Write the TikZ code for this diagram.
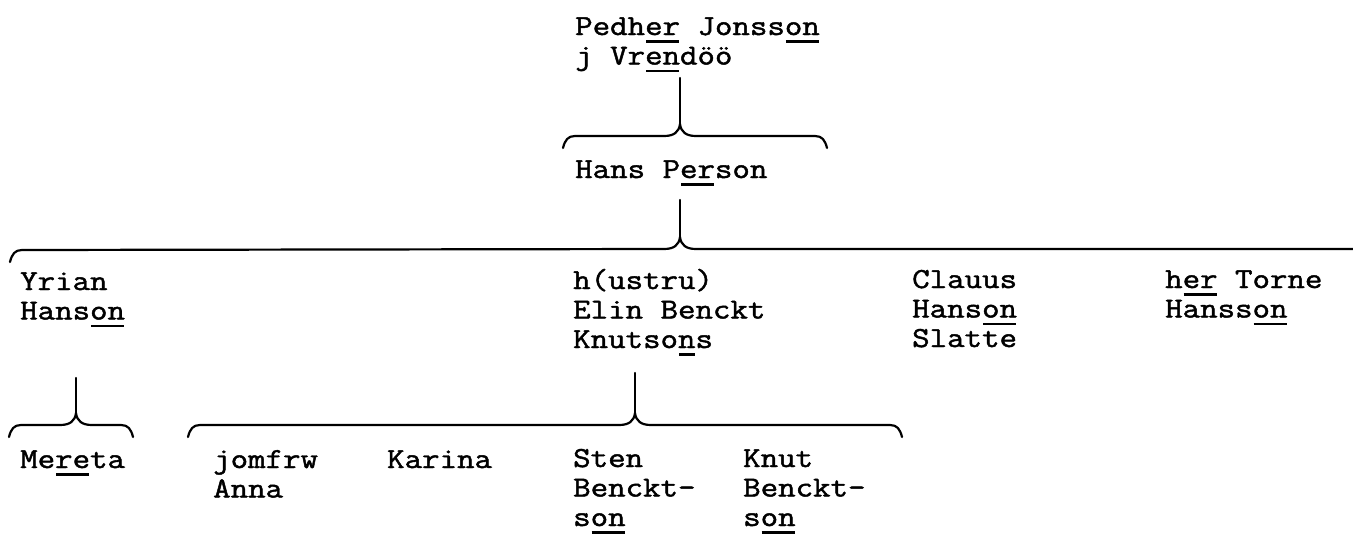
\documentclass[tikz,border=0pt]{standalone}
\usepackage{fontspec}
\newfontfamily\tw{Latin Modern Mono}[FakeStretch=1.17,FakeBold=1.6]
\newcommand\ul[1]{\setbox0\hbox{#1}\rlap{\kern1pt\rule[-7.5pt]{\dimexpr\wd0-2pt\relax}{2.2pt}}\box0\relax}
\newcommand\stk[1]{\vtop{\baselineskip=29.5pt\lineskiplimit=-100pt\lineskip=0pt #1}}
\newcommand\fbr[4]{%
  \draw[brace] (#1,#4+12) .. controls (#1+2,#4+4) and (#1+5,#4) .. (#1+12,#4)
    -- (#3-16,#4) .. controls (#3-6,#4) and (#3-1,#4-4) .. (#3,#4-12)
    .. controls (#3+1,#4-4) and (#3+6,#4) .. (#3+16,#4)
    -- (#2-12,#4) .. controls (#2-5,#4) and (#2-2,#4+4) .. (#2,#4+12);}
\begin{document}
\begin{tikzpicture}[x=1pt,y=-1pt,
  every node/.style={font=\tw\fontsize{29}{29.5}\selectfont, inner sep=0pt, anchor=base west},
  brace/.style={line width=2.2pt, line cap=round, line join=round}]
\useasboundingbox (0,0) rectangle (1353,541);
% texts
\node (ped) at (575,35) {\stk{\hbox{Pedh\ul{er} Jonss\ul{on}}\hbox{j Vr\ul{en}döö}}};
\node (hans) at (575,178) {Hans P\ul{er}son};
\node (yrian) at (20,290) {\stk{\hbox{Yrian}\hbox{Hans\ul{on}}}};
\node (elin) at (573,289) {\stk{\hbox{h(ustru)}\hbox{Elin Benckt}\hbox{Knutso\ul{n}s}}};
\node (clauus) at (912,288) {\stk{\hbox{Clauus}\hbox{Hans\ul{on}}\hbox{Slatte}}};
\node (torne) at (1165,288) {\stk{\hbox{h\ul{er} Torne}\hbox{Hanss\ul{on}}}};
\node (mereta) at (20,468) {Me\ul{re}ta};
\node (anna) at (213,468) {\stk{\hbox{jomfrw}\hbox{Anna}}};
\node (karina) at (387,468) {Karina};
\node (sten) at (573,467) {\stk{\hbox{Sten}\hbox{Benckt-}\hbox{s\ul{on}}}};
\node (knut) at (743,467) {\stk{\hbox{Knut}\hbox{Benckt-}\hbox{s\ul{on}}}};
% brace tips
\coordinate (t1) at (680,125);
\coordinate (t2) at (680,237);
\coordinate (t3) at (76,413);
\coordinate (t4) at (635,413);
% stems
\draw[brace] ([yshift=-43pt]ped.base -| t1) -- (t1);
\draw[brace] ([yshift=-22pt]hans.base -| t2) -- (t2);
\draw[brace] ([yshift=-88pt]yrian.base -| t3) -- (t3);
\draw[brace] ([yshift=-84pt]elin.base -| t4) -- (t4);
% braces
\fbr{563}{827}{680}{136}
\draw[brace] (10,262) .. controls (12,254) and (15,250) .. (22,250)
    -- (664,249) .. controls (674,249) and (679,245) .. (t2)
    .. controls (681,245) and (686,249) .. (696,249) -- (1353,249);
\fbr{9}{133}{76}{425}
\fbr{188}{902}{635}{425}
\end{tikzpicture}
\end{document}
